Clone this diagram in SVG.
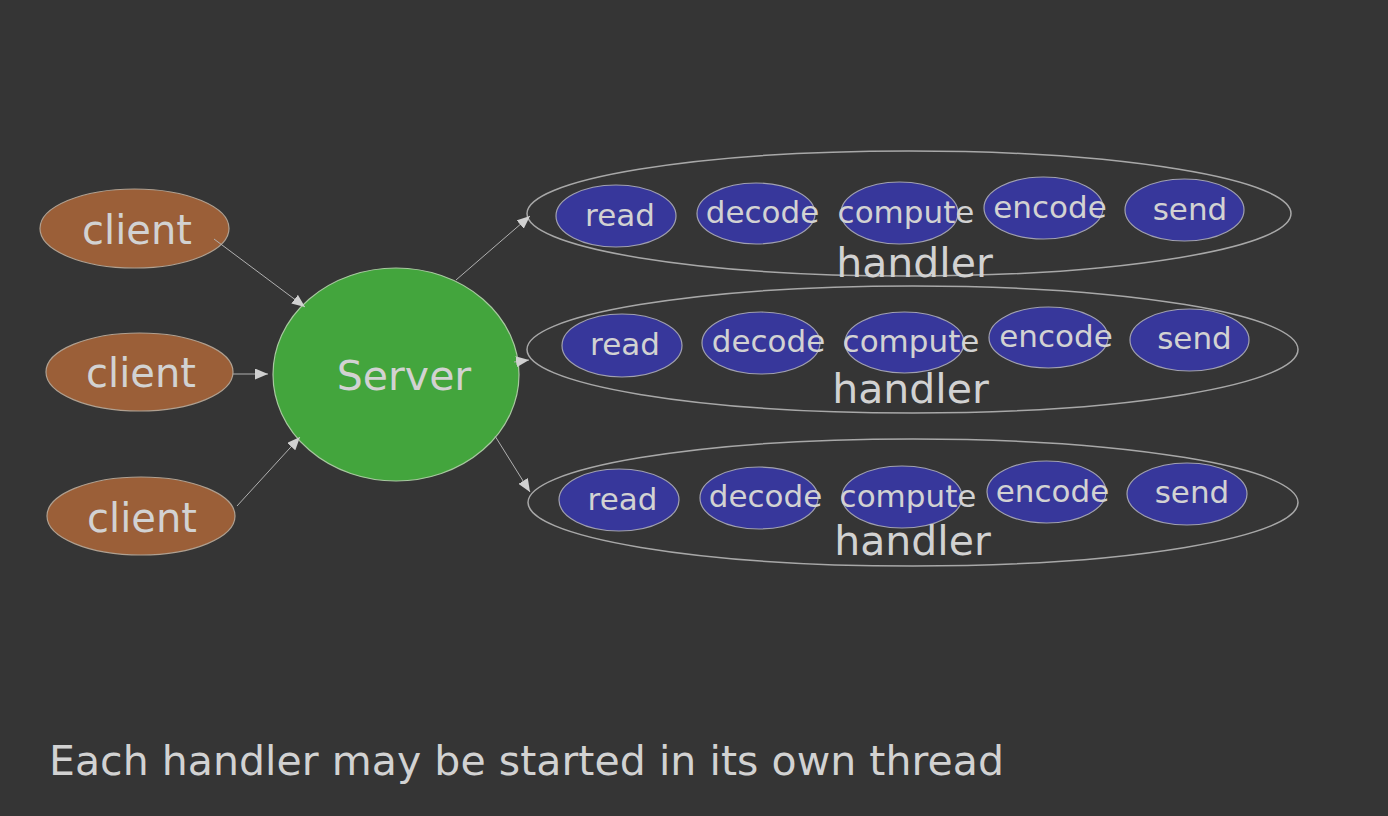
<svg xmlns="http://www.w3.org/2000/svg" width="1388" height="816" viewBox="0 0 1388 816">
<style>
text{font-family:"DejaVu Sans","Verdana",sans-serif;fill:#d2d2d2;text-anchor:middle}
.client{fill:#9b5f38;stroke:#b0a090;stroke-width:1.2}
.server{fill:#43a53d;stroke:#a8c8a0;stroke-width:1.2}
.step{fill:#37379b;stroke:#a0a0b0;stroke-width:1.2}
.handler{fill:none;stroke:#a8a8a8;stroke-width:1.5}
.big{font-size:40px}
.small{font-size:31px}
.hl{font-size:41px}
.edge{stroke:#b0b0b0;stroke-width:1;fill:none;marker-end:url(#arr)}
</style>
<defs>
<marker id="arr" markerUnits="userSpaceOnUse" markerWidth="13" markerHeight="11" refX="13" refY="5.5" orient="auto">
<path d="M0,0 L13,5.5 L0,11 z" fill="#d0d0d0"/>
</marker>
</defs>
<rect width="1388" height="816" fill="#353535"/>
<g id="client1"><ellipse class="client" cx="134.5" cy="228.5" rx="94.5" ry="39.5"/><text class="big" x="137" y="244">client</text></g>
<g id="client2"><ellipse class="client" cx="139.5" cy="372" rx="93.5" ry="39"/><text class="big" x="141" y="387">client</text></g>
<g id="client3"><ellipse class="client" cx="141" cy="516" rx="94" ry="39"/><text class="big" x="142" y="532">client</text></g>
<g id="server"><ellipse class="server" cx="396" cy="374.5" rx="123" ry="106.5"/><text class="hl" x="404" y="390">Server</text></g>

<g id="handler1">
<ellipse class="handler" cx="909" cy="213.5" rx="382" ry="62.5"/>
<g id="h1-read"><ellipse class="step" cx="616" cy="216" rx="60" ry="31"/><text class="small" x="620" y="226">read</text></g>
<g id="h1-decode"><ellipse class="step" cx="756" cy="213.5" rx="59" ry="30.5"/><text class="small" x="762.5" y="223">decode</text></g>
<g id="h1-compute"><ellipse class="step" cx="899.5" cy="213" rx="58.5" ry="31"/><text class="small" x="906" y="223">compute</text></g>
<g id="h1-encode"><ellipse class="step" cx="1043.5" cy="208" rx="59.5" ry="31"/><text class="small" x="1050" y="218">encode</text></g>
<g id="h1-send"><ellipse class="step" cx="1184.5" cy="210" rx="59.5" ry="31"/><text class="small" x="1190" y="220">send</text></g>
<text class="hl" x="914.5" y="277">handler</text>
</g>

<g id="handler2">
<ellipse class="handler" cx="912.5" cy="349.5" rx="385.5" ry="63.5"/>
<g id="h2-read"><ellipse class="step" cx="622" cy="345.5" rx="60" ry="31.5"/><text class="small" x="625" y="355">read</text></g>
<g id="h2-decode"><ellipse class="step" cx="761" cy="343" rx="59" ry="31"/><text class="small" x="768.5" y="352">decode</text></g>
<g id="h2-compute"><ellipse class="step" cx="904.5" cy="342.5" rx="59.5" ry="30.5"/><text class="small" x="911" y="352">compute</text></g>
<g id="h2-encode"><ellipse class="step" cx="1048.5" cy="337.5" rx="59.5" ry="30.5"/><text class="small" x="1056" y="347">encode</text></g>
<g id="h2-send"><ellipse class="step" cx="1189.5" cy="340" rx="59.5" ry="31"/><text class="small" x="1194.5" y="349">send</text></g>
<text class="hl" x="910.5" y="403">handler</text>
</g>

<g id="handler3">
<ellipse class="handler" cx="913" cy="502.5" rx="385" ry="63.5"/>
<g id="h3-read"><ellipse class="step" cx="619" cy="500" rx="60" ry="31"/><text class="small" x="622.5" y="510">read</text></g>
<g id="h3-decode"><ellipse class="step" cx="759" cy="498" rx="59" ry="31"/><text class="small" x="765.5" y="507">decode</text></g>
<g id="h3-compute"><ellipse class="step" cx="902" cy="497" rx="60" ry="31"/><text class="small" x="908" y="507">compute</text></g>
<g id="h3-encode"><ellipse class="step" cx="1046.5" cy="492" rx="59.5" ry="31"/><text class="small" x="1052.5" y="502">encode</text></g>
<g id="h3-send"><ellipse class="step" cx="1187" cy="494" rx="60" ry="31"/><text class="small" x="1192" y="503">send</text></g>
<text class="hl" x="912.5" y="555">handler</text>
</g>

<g id="connectors">
<line class="edge" x1="214" y1="239" x2="305" y2="307"/>
<line class="edge" x1="233" y1="374" x2="268" y2="374"/>
<line class="edge" x1="237" y1="506" x2="300" y2="437"/>
<line class="edge" x1="456" y1="280" x2="530" y2="216"/>
<line class="edge" x1="514" y1="362" x2="529" y2="360"/>
<line class="edge" x1="495" y1="436" x2="530" y2="492"/>
</g>

<text class="hl" x="49" y="775" style="text-anchor:start" textLength="955">Each handler may be started in its own thread</text>
</svg>
